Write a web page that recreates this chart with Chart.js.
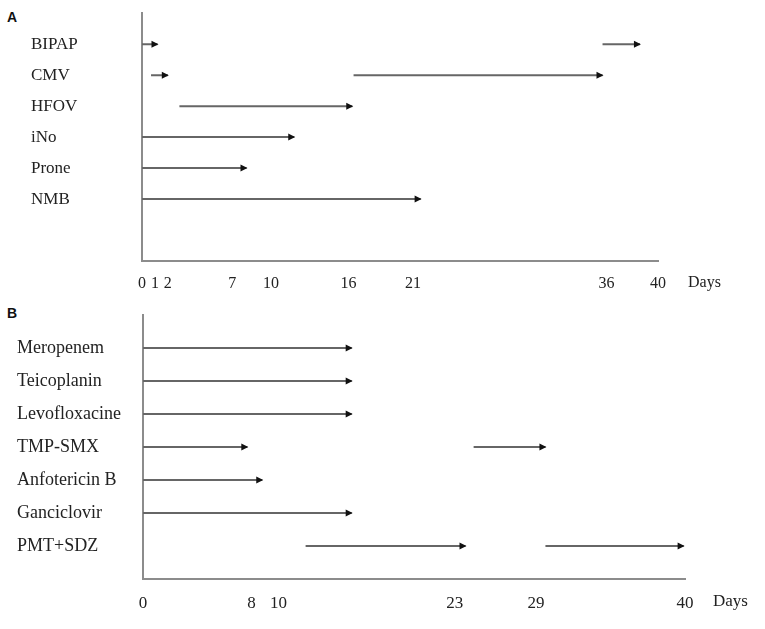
<!DOCTYPE html>
<html>
<head>
<meta charset="utf-8">
<script src="https://cdn.jsdelivr.net/npm/chart.js@4"></script>
<style>
  html, body { margin: 0; padding: 0; background: #fff; }
  body { width: 765px; height: 629px; position: relative; overflow: hidden; }
  .panel { position: absolute; left: 0; width: 765px; }
  .tag { position: absolute; left: 7px; font: bold 14px "Liberation Sans", Arial, sans-serif; line-height: 14px; color: #111; }
</style>
</head>
<body>
<div class="tag" style="top:10px">A</div>
<div class="tag" style="top:306px">B</div>
<div class="panel" style="top:0;height:300px"><canvas id="chartA"></canvas></div>
<div class="panel" style="top:290px;height:339px"><canvas id="chartB"></canvas></div>

<script>
// Panel A - ventilation / rescue therapies (days)
const rowsA = ['BIPAP', 'CMV', 'HFOV', 'iNo', 'Prone', 'NMB'];
const startA = [0, 0.7, 2.9, 0, 0, 0];
const endA = [1.2, 2.0, 16.3, 11.8, 8.1, 21.6];
const start2A = [35.7, 16.4, null, null, null, null];
const end2A = [38.6, 35.7, null, null, null, null];
const ticksA = [0, 1, 2, 7, 10, 16, 21, 36, 40];

// Panel B - antimicrobials (days)
const rowsB = ['Meropenem', 'Teicoplanin', 'Levofloxacine', 'TMP-SMX', 'Anfotericin B', 'Ganciclovir', 'PMT+SDZ'];
const startB = [0, 0, 0, 0, 0, 0, 12.0];
const endB = [15.4, 15.4, 15.4, 7.7, 8.8, 15.4, 23.8];
const start2B = [null, null, null, 24.4, null, null, 29.7];
const end2B = [null, null, null, 29.7, null, null, 39.9];
const ticksB = [0, 8, 10, 23, 29, 40];

const serif = '"Liberation Serif", "Times New Roman", serif';

function segments(starts, ends) {
    const out = [];
    starts.forEach((s, i) => {
        if (s === null) return;
        out.push({
            data: [{ x: s, y: i }, { x: ends[i], y: i }],
            showLine: true,
            borderColor: '#666',
            borderWidth: 2,
            pointRadius: 0
        });
    });
    return out;
}

const arrowHeads = {
    id: 'arrowHeads',
    afterDatasetsDraw(chart) {
        const ctx = chart.ctx;
        ctx.save();
        ctx.fillStyle = '#111';
        chart.data.datasets.forEach((ds, i) => {
            const pts = chart.getDatasetMeta(i).data;
            const tip = pts[pts.length - 1];
            ctx.beginPath();
            ctx.moveTo(tip.x + 1, tip.y);
            ctx.lineTo(tip.x - 6, tip.y - 3.5);
            ctx.lineTo(tip.x - 6, tip.y + 3.5);
            ctx.closePath();
            ctx.fill();
        });
        ctx.restore();
    }
};

const daysLabel = {
    id: 'daysLabel',
    afterDraw(chart, args, opts) {
        const ctx = chart.ctx;
        const area = chart.chartArea;
        ctx.save();
        ctx.font = opts.size + 'px ' + serif;
        ctx.fillStyle = '#222';
        ctx.textAlign = 'left';
        ctx.textBaseline = 'middle';
        ctx.fillText('Days', area.right + opts.gap, area.bottom + opts.drop);
        ctx.restore();
    }
};

function makeChart(id, rows, datasets, tickVals, o) {
    return new Chart(document.getElementById(id), {
        type: 'scatter',
        data: { datasets },
        options: {
            responsive: true,
            maintainAspectRatio: false,
            animation: false,
            layout: { padding: { left: o.left, top: o.top, right: o.right, bottom: 0 } },
            plugins: {
                legend: { display: false },
                tooltip: { enabled: false },
                daysLabel: { size: o.tickFont, gap: o.gap, drop: o.drop }
            },
            scales: {
                x: {
                    type: 'linear',
                    min: 0,
                    max: 40,
                    afterBuildTicks: s => { s.ticks = tickVals.map(v => ({ value: v })); },
                    afterFit: s => { s.height = o.xHeight; },
                    grid: { display: false, drawTicks: false },
                    border: { display: true, color: '#8c8c8c', width: 2 },
                    ticks: {
                        autoSkip: false,
                        maxRotation: 0,
                        padding: o.tickPad,
                        color: '#222',
                        font: { family: serif, size: o.tickFont }
                    }
                },
                y: {
                    type: 'linear',
                    reverse: true,
                    min: -1,
                    max: 7,
                    afterBuildTicks: s => { s.ticks = rows.map((r, i) => ({ value: i })); },
                    afterFit: s => { s.width = o.yWidth; },
                    grid: { display: false, drawTicks: false },
                    border: { display: true, color: '#8c8c8c', width: 2 },
                    ticks: {
                        autoSkip: false,
                        crossAlign: 'far',
                        color: '#222',
                        font: { family: serif, size: o.font },
                        callback: v => rows[v]
                    }
                }
            }
        },
        plugins: [arrowHeads, daysLabel]
    });
}

makeChart('chartA', rowsA,
    segments(startA, endA).concat(segments(start2A, end2A)),
    ticksA,
    { left: 31, top: 10, right: 107, yWidth: 111, xHeight: 39, tickPad: 13, font: 17, tickFont: 16, gap: 30, drop: 22 });

makeChart('chartB', rowsB,
    segments(startB, endB).concat(segments(start2B, end2B)),
    ticksB,
    { left: 17, top: 25, right: 80, yWidth: 126, xHeight: 50, tickPad: 14, font: 18, tickFont: 17, gap: 28, drop: 23 });
</script>
</body>
</html>
